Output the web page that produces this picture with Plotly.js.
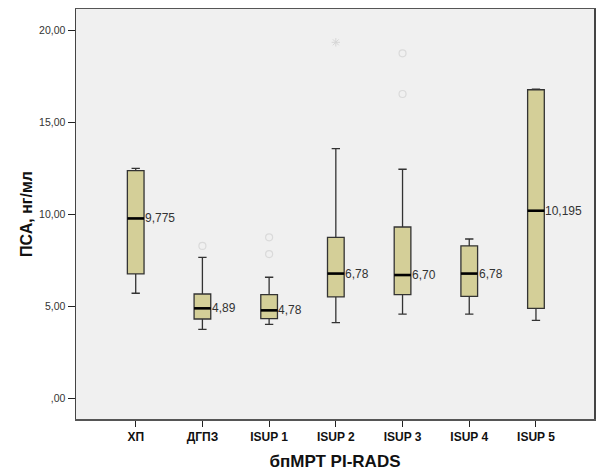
<!DOCTYPE html>
<html>
<head>
<meta charset="utf-8">
<script src="https://cdn.plot.ly/plotly-3.0.1.min.js"></script>
<style>
  html, body { margin: 0; padding: 0; background: #ffffff; }
  #chart { width: 596px; height: 471px; }
</style>
</head>
<body>
<div id="chart"></div>
<script>
// PSA (ng/ml) by bpMRI PI-RADS / ISUP group
const categories = ['ХП', 'ДГПЗ', 'ISUP 1', 'ISUP 2', 'ISUP 3', 'ISUP 4', 'ISUP 5'];
const whiskerLow  = [5.71, 3.75, 4.02, 4.11, 4.57, 4.57, 4.24];
const q1          = [6.76, 4.31, 4.33, 5.51, 5.63, 5.54, 4.89];
const medians     = [9.775, 4.89, 4.78, 6.78, 6.70, 6.78, 10.195];
const q3          = [12.37, 5.67, 5.63, 8.75, 9.31, 8.29, 16.77];
const whiskerHigh = [12.50, 7.66, 6.58, 13.57, 12.45, 8.66, 16.80];

// mild outliers (circles) and extreme outliers (asterisks), by category index
const outlierGroup = [1, 2, 2, 4, 4];
const outlierValue = [8.28, 8.75, 7.84, 18.75, 16.54];
const extremeGroup = [3];
const extremeValue = [19.35];

const yTickVals = [0, 5, 10, 15, 20];
const yTickText = [',00', '5,00', '10,00', '15,00', '20,00'];

const positions = categories.map((_, i) => i);
const boxWidth = 0.25;

// median label: comma decimal, at least two decimals
function fmt(v) {
  let s = v.toFixed(3);
  if (s.endsWith('0')) s = s.slice(0, -1);
  return s.replace('.', ',');
}

const boxTrace = {
  type: 'box',
  x: positions,
  q1: q1,
  median: medians,
  q3: q3,
  lowerfence: whiskerLow,
  upperfence: whiskerHigh,
  width: boxWidth,
  whiskerwidth: 0.5,
  boxpoints: false,
  fillcolor: '#d4cf98',
  line: { color: '#333333', width: 1.3 },
  hoverinfo: 'skip',
  showlegend: false
};

// thicker median bars drawn over the boxes
const medX = [], medY = [];
positions.forEach((p, i) => {
  medX.push(p - boxWidth / 2, p + boxWidth / 2, null);
  medY.push(medians[i], medians[i], null);
});
const medianTrace = {
  type: 'scatter', mode: 'lines',
  x: medX, y: medY,
  line: { color: '#000000', width: 2.6 },
  hoverinfo: 'skip', showlegend: false
};

const outlierTrace = {
  type: 'scatter', mode: 'markers',
  x: outlierGroup, y: outlierValue,
  marker: { symbol: 'circle-open', size: 7, color: '#dadada', line: { width: 1.2 } },
  hoverinfo: 'skip', showlegend: false
};
const extremeTrace = {
  type: 'scatter', mode: 'markers',
  x: extremeGroup, y: extremeValue,
  marker: { symbol: 'asterisk-open', size: 7, color: '#d6d6d6', line: { width: 1, color: '#d6d6d6' } },
  hoverinfo: 'skip', showlegend: false
};

const annotations = positions.map((p, i) => ({
  x: p + boxWidth / 2, y: medians[i],
  xref: 'x', yref: 'y',
  text: fmt(medians[i]),
  showarrow: false,
  xanchor: 'left', yanchor: 'middle',
  xshift: -1,
  font: { family: 'Liberation Sans, Arial, sans-serif', size: 12, color: '#333333' }
}));

const layout = {
  width: 596, height: 471,
  margin: { l: 76, r: 2, t: 9, b: 52 },
  paper_bgcolor: '#ffffff',
  plot_bgcolor: '#f0f0f0',
  font: { family: 'Liberation Sans, Arial, sans-serif', color: '#222222' },
  xaxis: {
    range: [-0.895, 6.87],
    tickvals: positions,
    ticktext: categories,
    ticks: 'outside', ticklen: 6, tickcolor: '#222222', tickwidth: 1,
    tickfont: { size: 12, color: '#111111', weight: 'bold' },
    showgrid: false, zeroline: false,
    showline: true, mirror: true, linecolor: '#555555', linewidth: 1.5,
    title: { text: 'бпМРТ PI-RADS', font: { size: 17, color: '#111111', weight: 'bold' }, standoff: 14 },
    automargin: false
  },
  yaxis: {
    range: [-1.125, 21.16],
    tickvals: yTickVals,
    ticktext: yTickText,
    ticks: 'outside', ticklen: 7, tickcolor: '#222222', tickwidth: 1,
    tickfont: { size: 10.5, color: '#333333' },
    showgrid: false, zeroline: false,
    showline: true, mirror: true, linecolor: '#444444', linewidth: 1.5,
    title: { text: 'ПСА, нг/мл', font: { size: 16, color: '#111111', weight: 'bold' }, standoff: 2 },
    automargin: false
  },
  annotations: annotations
};

Plotly.newPlot('chart', [boxTrace, medianTrace, outlierTrace, extremeTrace], layout, { displayModeBar: false, staticPlot: true });
</script>
</body>
</html>
